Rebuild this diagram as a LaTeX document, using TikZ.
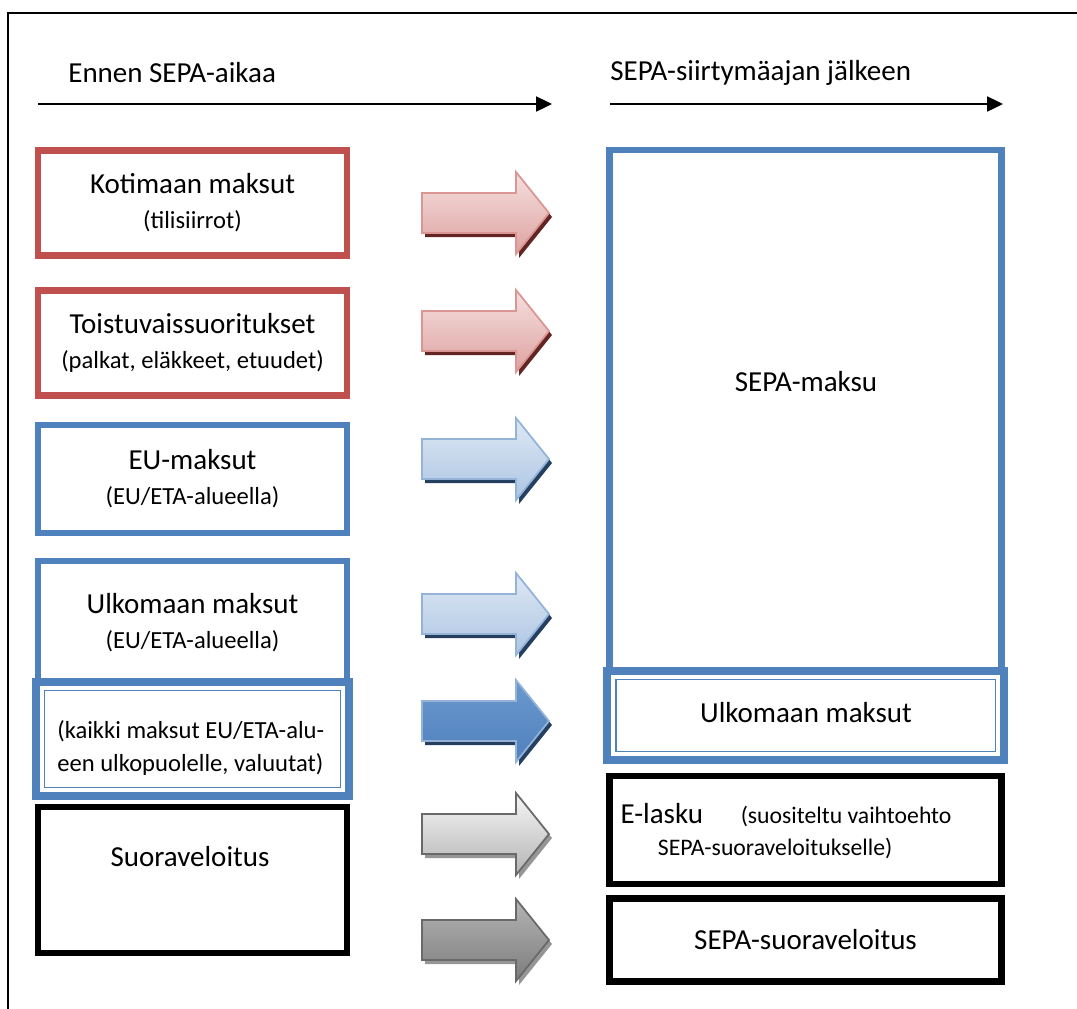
\documentclass[tikz,border=0pt]{standalone}
\usepackage{fontspec}
\setmainfont{Carlito}
\usetikzlibrary{arrows.meta}
\usetikzlibrary{calc}
\tikzset{>={Triangle[length=9pt,width=8.5pt]}}
\definecolor{boxred}{RGB}{192,80,77}
\definecolor{boxblue}{RGB}{79,129,189}
\definecolor{redlight}{RGB}{244,224,223}
\definecolor{reddark}{RGB}{222,162,160}
\definecolor{redline}{RGB}{217,150,148}
\definecolor{redshadow}{RGB}{99,37,35}
\definecolor{bluelight}{RGB}{222,232,244}
\definecolor{bluedark}{RGB}{172,197,227}
\definecolor{blueline}{RGB}{149,179,215}
\definecolor{blueshadow}{RGB}{36,63,96}
\definecolor{bluetop}{RGB}{108,152,206}
\definecolor{greylight}{RGB}{246,246,246}
\definecolor{greydark}{RGB}{180,180,180}
\definecolor{greydeep}{RGB}{125,125,125}
\definecolor{greyline}{RGB}{105,105,105}
\definecolor{greyshadow}{RGB}{150,150,150}
\newcommand{\mainsize}{\fontsize{16.5pt}{20pt}\selectfont}
\newcommand{\subsize}{\fontsize{14pt}{20pt}\selectfont}
\newcommand{\elsize}{\fontsize{13.5pt}{20pt}\selectfont}
\tikzstyle{redbox}=[draw=boxred,line width=3.7pt,fill=white,minimum width=6.18cm,font=\mainsize,align=center]
\tikzstyle{bluebox}=[draw=boxblue,line width=3.9pt,fill=white,minimum width=6.18cm,font=\mainsize,align=center]
\tikzstyle{blackbox}=[draw=black,line width=3.9pt,fill=white,minimum width=7.84cm,font=\mainsize]
\tikzstyle{doublebox}=[draw=boxblue,line width=4.7pt,fill=white,outer sep=0pt]
\tikzstyle{thinline}=[draw=boxblue,line width=1.1pt]
\tikzstyle{boxtext}=[font=\mainsize,align=center,inner sep=0pt]
% block arrow with a drop shadow: #1 left end, #2 fill, #3 border, #4 shadow
\newcommand{\blockarrow}[4]{%
  \begin{scope}[shift={#1}]
    \fill[#4] (3,-16) -- (97,-16) -- (97,-37) -- (130,4) -- (97,45) -- (97,24) -- (3,24) -- cycle;
    \draw[#2,draw=#3,line width=1pt,line join=miter] (0,-20) -- (94,-20) -- (94,-41) -- (127,0) -- (94,41) -- (94,20) -- (0,20) -- cycle;
  \end{scope}}

\begin{document}
\begin{tikzpicture}[x=0.02cm,y=-0.02cm]
  \useasboundingbox (0,0) rectangle (1077,1008);
  \draw[line width=1.5pt] (8,1012) -- (8,13) -- (1082,13);

  % headings
  \node[boxtext,anchor=west] (before) at (68,73) {Ennen SEPA-aikaa};
  \node[boxtext,anchor=west] (after) at (610,73) {SEPA-siirtymäajan jälkeen};
  \coordinate (bs) at (38,104);
  \coordinate (be) at (552,104);
  \coordinate (as) at (610,104);
  \coordinate (ae) at (1003,104);
  \draw[->,line width=1.1pt] (bs) -- (be);
  \draw[->,line width=1.1pt] (as) -- (ae);

  % before
  \node[redbox,minimum height=2.1cm] (koti) at (192.5,203) {Kotimaan maksut\\{\subsize (tilisiirrot)}};
  \node[redbox,minimum height=2.1cm] (toist) at (192.5,343) {Toistuvaissuoritukset\\{\subsize (palkat, eläkkeet, etuudet)}};
  \node[bluebox,minimum height=2.16cm] (eu) at (192.5,479) {EU-maksut\\{\subsize (EU/ETA-alueella)}};
  \node[bluebox,minimum height=2.46cm] (ulko) at (192.5,622.5) {Ulkomaan maksut\\{\subsize (EU/ETA-alueella)}};
  \node[doublebox,minimum width=6.26cm,minimum height=2.28cm] (muut) at (192.5,739) {};
  \draw[thinline] ([shift={(8.5,8.5)}]muut.north west) rectangle ([shift={(-8.5,-8.5)}]muut.south east);
  \node[boxtext,font=\fontsize{14pt}{19.3pt}\selectfont,align=left,anchor=west] (muuttext) at (57,748) {(kaikki maksut EU/ETA-alu-\\een ulkopuolelle, valuutat)};
  \node[blackbox,minimum width=6.18cm,minimum height=2.92cm] (suora) at (192.5,880) {};
  \node[boxtext] (suoratext) at (190,857) {Suoraveloitus};

  % after
  \node[bluebox,minimum width=7.84cm,minimum height=10.8cm] (sepa) at (805.5,420) {};
  \node[boxtext] (sepatext) at (806,382) {SEPA-maksu};
  \node[doublebox,minimum width=7.94cm,minimum height=1.78cm] (ulkoa) at (805.5,715.5) {};
  \draw[thinline] ([shift={(8.5,8.5)}]ulkoa.north west) rectangle ([shift={(-8.5,-8.5)}]ulkoa.south east);
  \node[boxtext] (ulkoatext) at (806,713) {Ulkomaan maksut};
  \node[blackbox,minimum height=2.16cm] (elasku) at (805.5,830) {};
  \node[boxtext] (elaskutext) at (786,831) {E-lasku\hspace{1.3em}{\elsize (suositeltu vaihtoehto}\\[-2pt]\hspace*{-0.75em}{\elsize SEPA-suoraveloitukselle)}};
  \node[blackbox,minimum height=1.66cm] (sdd) at (805.5,940) {SEPA-suoraveloitus};

  % arrows
  \blockarrow{(422,213)}{top color=redlight,bottom color=reddark}{redline}{redshadow}
  \blockarrow{(422,331)}{top color=redlight,bottom color=reddark}{redline}{redshadow}
  \blockarrow{(422,459)}{top color=bluelight,bottom color=bluedark}{blueline}{blueshadow}
  \blockarrow{(422,614)}{top color=bluelight,bottom color=bluedark}{blueline}{blueshadow}
  \blockarrow{(422,721)}{top color=bluetop,bottom color=boxblue}{blueline}{blueshadow}
  \blockarrow{(422,834)}{top color=greylight,bottom color=greydark}{greyline}{greyshadow}
  \blockarrow{(422,940)}{top color=greydark,bottom color=greydeep}{greyline}{greyshadow}
\end{tikzpicture}
\end{document}
